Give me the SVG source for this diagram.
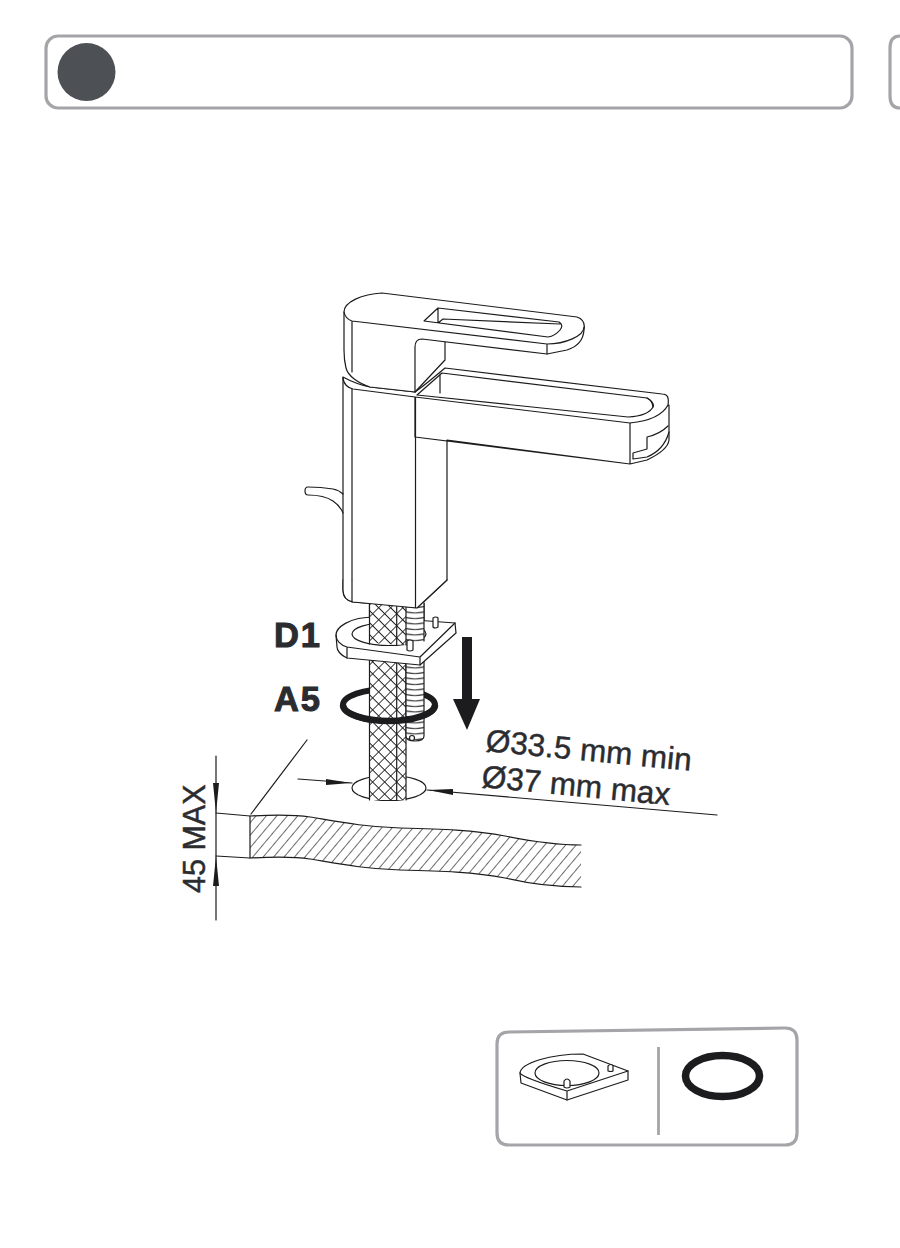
<svg xmlns="http://www.w3.org/2000/svg" width="900" height="1248" viewBox="0 0 900 1248">
<style>
.box{fill:#fff;stroke:#a5a5a9;stroke-width:3.2}
.l{fill:none;stroke:#1c1c1e;stroke-width:1.2;stroke-linejoin:round;stroke-linecap:round}
.f{fill:#fff;stroke:#1c1c1e;stroke-width:1.2;stroke-linejoin:round}
.t{font-family:"Liberation Sans",Arial,sans-serif;fill:#2b2c30;stroke:#2b2c30;stroke-width:.45}
.b{font-size:34.5px;font-weight:700;letter-spacing:1.8px;stroke-width:1}
.a{fill:#1c1c1e}
</style>
<defs>
<pattern id="hatch" width="8" height="8" patternUnits="userSpaceOnUse" patternTransform="rotate(40)">
<rect width="8" height="8" fill="#fff"/><line x1="0" y1="0" x2="0" y2="8" stroke="#1c1c1e" stroke-width="1.3"/>
</pattern>
<pattern id="mesh" width="8.500" height="8.500" patternUnits="userSpaceOnUse" patternTransform="rotate(45)">
<rect width="8.500" height="8.500" fill="#fff"/><path d="M0 0H8.500M0 0V8.500" stroke="#1c1c1e" stroke-width="1.700" fill="none"/>
</pattern>
<pattern id="thread" width="18" height="5.500" patternUnits="userSpaceOnUse" patternTransform="translate(406 0)">
<rect width="18" height="5.500" fill="#fff"/><path d="M0 1.500Q9 3.500 18 1.500" stroke="#1c1c1e" stroke-width="1.100" fill="none"/>
</pattern>
</defs>

<g id="header">
<rect class="box" x="46" y="36" width="806" height="72" rx="12"/>
<circle cx="86.500" cy="72" r="29" fill="#4d5055"/>
</g>
<g id="header-next">
<path class="box" d="M902 36H900Q890 36 890 48V96Q890 108 900 108H902" style="fill:none"/>
</g>

<g id="counter">
<path d="M250 816C270 815 290 814 310 817C340 822 365 827 400 828C440 829 475 830 505 836C530 841 555 845 581 845V887C555 887 530 884 505 878C475 872 440 871 400 870C365 869 340 864 310 859C290 856 270 857 250 858Z" fill="url(#hatch)"/>
<path class="l" d="M581 845C555 845 530 841 505 836C475 830 440 829 400 828C365 827 340 822 310 817C290 814 270 815 250 816L216 813"/>
<path class="l" d="M581 887C555 887 530 884 505 878C475 872 440 871 400 870C365 869 340 864 310 859C290 856 270 857 250 858L216 856"/>
<path class="l" d="M250 816V858M251 814L307 740"/>
<ellipse class="f" cx="389" cy="788" rx="37" ry="12.500"/>
</g>

<g id="A5-back">
<ellipse cx="389" cy="705" rx="46" ry="16" fill="none" stroke="#1c1c1e" stroke-width="6"/>
</g>

<g id="hose">
<path d="M369.500 603H406V800H369.500Z" fill="url(#mesh)"/>
<path class="l" d="M369.500 603V800M396.700 603V800M406 603V800"/>
</g>

<g id="rod">
<path d="M406 603H424V736Q424 741 415 741Q406 741 406 736Z" fill="url(#thread)"/>
<path class="l" d="M406 603V736Q406 741 415 741Q424 741 424 736V603"/>
<circle class="f" cx="412" cy="738" r="2.500"/>
</g>

<g id="faucet">
<path class="f" d="M343 377V590Q343 600 353 602L417 608L447 580V440L630 464L647 460Q668 450 669 440V405L630 423V464L415 437V395"/>
<path class="l" d="M352 386V602M415.500 395V608"/>
<path class="l" d="M308 487C304 487 304 495 308 495C318 495 327 497 333 501C339 505 341 508 343 513M308 487C318 487 327 488 333 489C338 490 341 492 343 494"/>
<path class="f" d="M343 377C343 384 348 388 353 389L415 397L630 423Q660 420 668 405C669 398 668 394 662 394L445 368Q425 385 415 392L370 387C355 384 345 378 343 377Z"/>
<path class="l" d="M442 373L647 398Q655 403 653 407Q648 416 628 417L417 395L442 373M440 374V393"/>
<path class="l" d="M647 398Q652 400 653 407M668 426Q660 434 647 437V449L633 453V459L647 457Q664 450 669 432"/>
<path class="f" d="M344 312C344 302 362 294 382 293L577 317Q586 320 584 330Q583 345 567 350L547 354L422 339Q415 339 415 347V392L370 387C358 383 348 376 346 368C344 360 344 357 344 350Z"/>
<path class="l" d="M344 312C345 317 349 320 352 321L547 344C565 344 584 336 584 327M352 321V372M547 344V354M445 342V360M415 392L445 360"/>
<path class="l" d="M424 321L438 308L559 322Q564 325 560 330Q555 336 548 337ZM438 308V323L443 319L560 324M439 323L548 337"/>
</g>

<g id="D1">
<path class="f" d="M336 635C336 628 348 617 375 617L455 623L456 633L420 665L347 658C340 655 337 650 337 647Z"/>
<path class="l" d="M336 635C336 640 340 645 347 647L420 657L455 623M347 647V658M420 657V665"/>
<ellipse class="f" cx="389" cy="634" rx="37" ry="11.500"/>
<path d="M369.500 603H406V645L369.500 643Z" fill="url(#mesh)"/>
<path d="M406 603H424V642L406 645Z" fill="url(#thread)"/>
<path class="l" d="M369.500 603V644M396.700 603V645M406 603V645M424 603V641"/>
<path class="f" d="M433 621V618Q436 616 438 618V627Q435 629 433 627Z"/>
<path class="f" d="M407 644V641Q410 639 413 641V650Q410 652 407 650Z"/>
</g>

<g id="faucet-base">
<path d="M343 580V590Q343 600 353 602L417 608L447 580Z" fill="#fff"/>
<path class="l" d="M343 580V590Q343 600 353 602L417 608L447 580M415.500 580V608M352 580V602"/>
</g>

<g id="A5-front">
<path d="M343 705C343 714 365 721 389 721C413 721 435 714 435 705" fill="none" stroke="#1c1c1e" stroke-width="6.500"/>
</g>

<g id="connectors">
<path class="a" d="M462 637H472V699H480L467 730L453 699H462Z"/>
<path class="l" d="M298 779L352 783M427 790L717 815M216 756V920"/>
<path class="a" d="M326 779L351 783L326 785ZM428 790L453 789L453 795Z"/>
<path class="a" d="M213 783H219L216 813ZM213 886H219L216 856Z"/>
</g>

<g id="labels">
<text class="t b" x="274" y="647">D1</text>
<text class="t b" x="274" y="711">A5</text>
<text class="t" font-size="31.500" transform="translate(485 751) rotate(5.500)">Ø33.5 mm min</text>
<text class="t" font-size="31.500" transform="translate(481 787) rotate(5.500)">Ø37 mm max</text>
<text class="t" font-size="30.500" transform="translate(205 893) rotate(-90)">45 MAX</text>
</g>

<g id="parts">
<path class="box" d="M509 1032L785 1028Q797 1028 797 1040V1133Q797 1145 785 1145H509Q497 1145 497 1133V1044Q497 1032 509 1032Z"/>
<line x1="658.500" y1="1047" x2="658.500" y2="1135" stroke="#a5a5a9" stroke-width="2.800"/>
<g id="part-D1">
<path class="f" d="M520 1073C521 1063 550 1054 583 1054L628 1071V1080L567 1100L521 1083Z"/>
<path class="l" d="M520 1073C522 1077 540 1083 567 1091L628 1071M567 1091V1100"/>
<ellipse class="f" cx="567" cy="1073" rx="32" ry="12.500"/>
<path class="f" d="M564 1081Q567 1077 570 1081V1087Q567 1089 564 1087Z"/>
<path class="f" d="M608 1066Q611 1063 613 1066V1071Q611 1072 608 1071Z"/>
</g>
<ellipse id="part-A5" cx="722.500" cy="1076" rx="37" ry="20.500" fill="none" stroke="#1c1c1e" stroke-width="7.500"/>
</g>
</svg>
